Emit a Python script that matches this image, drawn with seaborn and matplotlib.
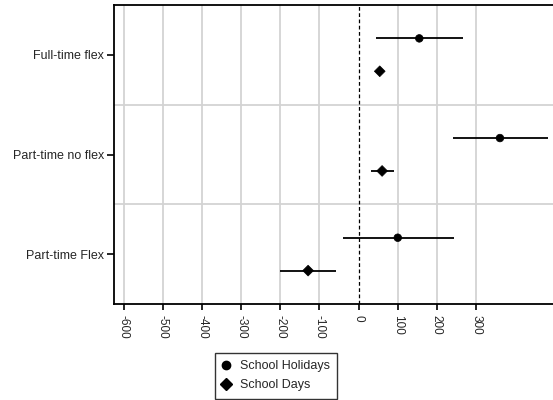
import matplotlib
matplotlib.use("Agg")
import matplotlib.pyplot as plt
import seaborn as sns
import pandas as pd
import numpy as np
from matplotlib.lines import Line2D

categories = ["Full-time flex", "Part-time no flex", "Part-time Flex"]
holiday_est = [155, 361, 100]
holiday_lo = [45, 240, -40]
holiday_hi = [267, 484, 243]
days_est = [54, 60, -129]
days_lo = [54, 31, -200]
days_hi = [54, 90, -57]
xticks = [-600, -500, -400, -300, -200, -100, 0, 100, 200, 300]

sns.set_theme(style="white")
plt.rcParams['font.family'] = ['Liberation Sans', 'DejaVu Sans']

off = 0.165
rows = []
for i, c in enumerate(categories):
    rows.append(dict(cat=c, y=i - off, est=holiday_est[i], lo=holiday_lo[i], hi=holiday_hi[i], period="School Holidays"))
    rows.append(dict(cat=c, y=i + off, est=days_est[i], lo=days_lo[i], hi=days_hi[i], period="School Days"))
df = pd.DataFrame(rows)

fig = plt.figure(figsize=(5.53, 4.0), dpi=100)
ax = fig.add_axes([0.206, 0.24, 0.80, 0.7475])

# grid
for x in xticks:
    if x != 0:
        ax.axvline(x, color="#d3d3d3", lw=1.3, zorder=0)
for yv in [0.5, 1.5]:
    ax.axhline(yv, color="#d3d3d3", lw=1.3, zorder=0)
ax.axvline(0, color="black", lw=0.9, ls=(0, (3, 2)), zorder=1)

ax.hlines(df["y"], df["lo"], df["hi"], color="black", lw=1.3, zorder=2)
sns.scatterplot(data=df, x="est", y="y", style="period",
                markers={"School Holidays": "o", "School Days": "D"},
                color="black", s=30, edgecolor="black", linewidth=0.5,
                ax=ax, legend=False, zorder=3)

ax.set_xlim(-625, 505)
ax.set_ylim(2.5, -0.5)
ax.set_xticks(xticks)
ax.set_xticklabels([str(t) for t in xticks], rotation=270, fontsize=8.5)
ax.set_yticks(range(len(categories)))
ax.set_yticklabels(categories, fontsize=9)
ax.set_xlabel("")
ax.set_ylabel("")
ax.tick_params(axis="x", bottom=True, length=4, width=1.2, color="black", pad=4)
ax.tick_params(axis="y", left=True, length=5, width=1.2, color="black", pad=2)
for s in ["left", "bottom", "top"]:
    ax.spines[s].set_color("black")
    ax.spines[s].set_linewidth(1.3)
ax.spines["right"].set_visible(False)

handles = [Line2D([], [], marker="o", color="black", ls="none", markersize=6),
           Line2D([], [], marker="D", color="black", ls="none", markersize=6)]
leg = fig.legend(handles, ["School Holidays", "School Days"], loc="lower center",
                 bbox_to_anchor=(0.4988, 0.003), frameon=True, fancybox=False,
                 fontsize=9, handletextpad=0.7, handlelength=0.7,
                 borderpad=0.6, labelspacing=0.55, borderaxespad=0)
leg.get_frame().set_edgecolor("black")
leg.get_frame().set_linewidth(1.0)

fig.savefig("out.png", dpi=100)
